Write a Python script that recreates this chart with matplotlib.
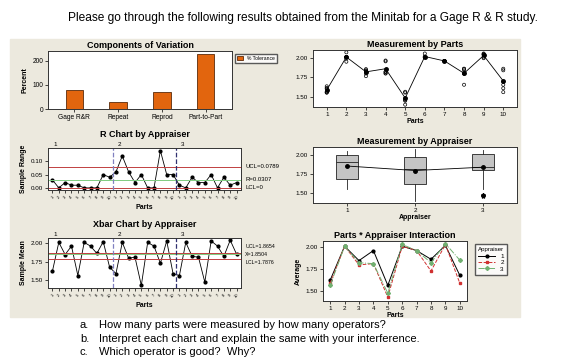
import numpy as np
import matplotlib
matplotlib.use('Agg')
import matplotlib.pyplot as plt
from matplotlib.patches import Rectangle

plt.rcParams['font.family'] = ['Liberation Sans', 'DejaVu Sans']

# ---- data read from the Minitab output ----
components = ['Gage R&R', 'Repeat', 'Reprod', 'Part-to-Part']
pct_tolerance = [78, 30, 72, 228]

parts = list(range(1, 11))
appraisers = [1, 2, 3]

# two trials per appraiser per part (appraiser 1, 2, 3 blocks of 10 parts)
trial_1 = [1.635, 2.01, 1.855, 1.965, 1.565, 2.01, 1.96, 1.86, 2.045, 1.695,
           1.615, 2.07, 1.825, 1.82, 1.45, 2.01, 1.96, 1.795, 2.055, 1.61,
           1.565, 2.01, 1.84, 1.82, 1.48, 2.055, 1.96, 1.84, 2.045, 1.86]
trial_2 = [1.605, 2.01, 1.835, 1.955, 1.555, 2.01, 1.96, 1.86, 1.995, 1.655,
           1.555, 1.95, 1.765, 1.80, 1.40, 2.01, 1.96, 1.655, 2.005, 1.56,
           1.555, 2.01, 1.80, 1.80, 1.46, 2.005, 1.96, 1.80, 2.035, 1.84]

r_ucl, r_bar, r_lcl = 0.0789, 0.0307, 0.0
x_ucl, x_bar, x_lcl = 1.8654, 1.8504, 1.7876

W, H = 564, 360
BEIGE = '#ECE9DE'
ORANGE = '#E2650E'


def ax_px(fig, l, t, r, b):
    return fig.add_axes([l / W, 1 - b / H, (r - l) / W, (b - t) / H])


def style(ax, fs=4.5):
    ax.set_facecolor('white')
    for s in ax.spines.values():
        s.set_linewidth(0.7)
        s.set_color('#333333')
    ax.tick_params(labelsize=fs, length=2, width=0.5, pad=1.5)


def main():
    fig = plt.figure(figsize=(W / 100, H / 100), dpi=100)
    fig.patch.set_facecolor('white')
    fig.add_artist(Rectangle((10 / W, 1 - 317 / H), 510 / W, 278 / H,
                             transform=fig.transFigure, color=BEIGE, zorder=0))

    t1 = np.array(trial_1)
    t2 = np.array(trial_2)
    means = (t1 + t2) / 2
    ranges = np.abs(t1 - t2)
    idx = np.arange(1, 31)

    tfs = 6.5
    lfs = 5

    # Components of variation
    ax = ax_px(fig, 48, 51, 232, 109)
    style(ax, fs=4.8)
    ax.bar(range(4), pct_tolerance, width=0.4, color=ORANGE, edgecolor='#5A2A0A',
           linewidth=0.6, label='% Tolerance')
    ax.set_xticks(range(4))
    ax.set_xticklabels(components)
    ax.set_yticks([0, 100, 200])
    ax.set_ylim(0, 240)
    ax.set_xlim(-0.6, 3.6)
    ax.set_ylabel('Percent', fontsize=lfs, fontweight='bold', labelpad=3)
    ax.set_title('Components of Variation', fontsize=tfs, fontweight='bold', pad=2)
    ax.legend(loc='upper left', bbox_to_anchor=(1.005, 1.0), fontsize=3.6,
              frameon=True, fancybox=False, edgecolor='#333333', handlelength=1.2,
              borderpad=0.4)

    # R chart
    ax = ax_px(fig, 48, 148, 241, 190)
    style(ax)
    ax.plot(idx, ranges, color='black', lw=0.6, marker='o', ms=2)
    ax.axhline(r_ucl, color='#C04040', lw=0.7)
    ax.axhline(r_bar, color='#80CC80', lw=0.7)
    ax.axhline(r_lcl, color='#C04040', lw=0.7)
    ax.axvline(10.5, color='#8080C0', lw=0.9, ls='--')
    ax.axvline(20.5, color='#303070', lw=0.9, ls='--')
    ax.set_xlim(0.3, 30.7)
    ax.set_ylim(-0.008, 0.15)
    ax.set_yticks([0.0, 0.05, 0.10])
    ax.set_yticklabels(['0.00', '0.05', '0.10'])
    ax.set_xticks(idx)
    ax.set_xticklabels(parts * 3, rotation=45, fontsize=3)
    ax.set_ylabel('Sample Range', fontsize=lfs, fontweight='bold', labelpad=3)
    ax.set_xlabel('Parts', fontsize=lfs, fontweight='bold', labelpad=2)
    ax.set_title('R Chart by Appraiser', fontsize=tfs, fontweight='bold', pad=8)
    for k, a in enumerate(appraisers):
        ax.text(1.5 + 10 * k, 1.03, str(a), transform=ax.get_xaxis_transform(),
                fontsize=4.5, ha='center', va='bottom')
    for y, s in [(r_ucl, 'UCL=0.0789'), (r_bar, 'R\u0304=0.0307'), (r_lcl, 'LCL=0')]:
        ax.annotate(s, (1.0, y), xycoords=('axes fraction', 'data'),
                    xytext=(3, 0), textcoords='offset points', fontsize=4.3,
                    va='center', annotation_clip=False)

    # Xbar chart
    ax = ax_px(fig, 48, 238, 241, 288)
    style(ax)
    ax.plot(idx, means, color='black', lw=0.6, marker='o', ms=2)
    ax.axhline(x_ucl, color='#C04040', lw=0.7)
    ax.axhline(x_bar, color='#80CC80', lw=0.7)
    ax.axhline(x_lcl, color='#C04040', lw=0.7)
    ax.axvline(10.5, color='#8080C0', lw=0.9, ls='--')
    ax.axvline(20.5, color='#303070', lw=0.9, ls='--')
    ax.set_xlim(0.3, 30.7)
    ax.set_ylim(1.39, 2.07)
    ax.set_yticks([1.5, 1.75, 2.0])
    ax.set_yticklabels(['1.50', '1.75', '2.00'])
    ax.set_xticks(idx)
    ax.set_xticklabels(parts * 3, rotation=45, fontsize=3)
    ax.set_ylabel('Sample Mean', fontsize=lfs, fontweight='bold', labelpad=3)
    ax.set_xlabel('Parts', fontsize=lfs, fontweight='bold', labelpad=2)
    ax.set_title('Xbar Chart by Appraiser', fontsize=tfs, fontweight='bold', pad=8)
    for k, a in enumerate(appraisers):
        ax.text(1.5 + 10 * k, 1.03, str(a), transform=ax.get_xaxis_transform(),
                fontsize=4.5, ha='center', va='bottom')
    # labels sit close together, as in the Minitab output
    for y, s, dy in [(x_ucl, 'UCL=1.8654', 4.5), (x_bar, 'X\u0304=1.8504', 0),
                     (x_lcl, 'LCL=1.7876', -3)]:
        ax.annotate(s, (1.0, y), xycoords=('axes fraction', 'data'),
                    xytext=(3, dy), textcoords='offset points', fontsize=3.8,
                    va='center', annotation_clip=False)

    # Measurement by parts
    ax = ax_px(fig, 313, 50, 517, 107)
    style(ax)
    allv = np.concatenate([t1, t2]).reshape(2, 3, 10)
    for p in range(10):
        vals = allv[:, :, p].ravel()
        ax.scatter(np.full(vals.size, p + 1), vals, s=5, facecolors='none',
                   edgecolors='black', linewidths=0.5)
    ax.plot(parts, allv.mean(axis=(0, 1)), color='black', lw=0.6, marker='o', ms=2.5)
    ax.set_xlim(0.3, 10.7)
    ax.set_ylim(1.37, 2.1)
    ax.set_xticks(parts)
    ax.set_yticks([1.5, 1.75, 2.0])
    ax.set_yticklabels(['1.50', '1.75', '2.00'])
    ax.set_xlabel('Parts', fontsize=lfs, fontweight='bold', labelpad=1)
    ax.set_title('Measurement by Parts', fontsize=tfs, fontweight='bold', pad=2)

    # Measurement by appraiser
    ax = ax_px(fig, 313, 147, 517, 203)
    style(ax)
    by_app = [allv[:, a, :].ravel() for a in range(3)]
    ax.boxplot(by_app, positions=appraisers, widths=0.32, patch_artist=True,
               boxprops=dict(facecolor='#C4C4C4', edgecolor='#222222', lw=0.6),
               medianprops=dict(color='#222222', lw=0.6),
               whiskerprops=dict(color='#222222', lw=0.6),
               capprops=dict(lw=0), flierprops=dict(marker='*', ms=3,
                                                    markerfacecolor='black',
                                                    markeredgecolor='black'))
    ax.plot(appraisers, [v.mean() for v in by_app], color='black', lw=0.6,
            marker='o', ms=2.5, zorder=5)
    ax.set_xlim(0.5, 3.5)
    ax.set_ylim(1.37, 2.1)
    ax.set_xticks(appraisers)
    ax.set_yticks([1.5, 1.75, 2.0])
    ax.set_yticklabels(['1.50', '1.75', '2.00'])
    ax.set_xlabel('Appraiser', fontsize=lfs, fontweight='bold', labelpad=1)
    ax.set_title('Measurement by Appraiser', fontsize=tfs, fontweight='bold', pad=2)

    # Interaction plot
    ax = ax_px(fig, 323, 241, 467, 301)
    style(ax)
    styles = [('black', '-', 'o'), ('#D03030', '--', 's'), ('#70B070', '-.', 'D')]
    for a, (c, ls, m) in zip(range(3), styles):
        ax.plot(parts, allv[:, a, :].mean(axis=0), color=c, ls=ls, lw=0.7,
                marker=m, ms=2, label=str(a + 1))
    ax.set_xlim(0.5, 10.5)
    ax.set_ylim(1.38, 2.07)
    ax.set_xticks(parts)
    ax.set_yticks([1.5, 1.75, 2.0])
    ax.set_yticklabels(['1.50', '1.75', '2.00'])
    ax.set_ylabel('Average', fontsize=lfs, fontweight='bold', labelpad=3)
    ax.set_xlabel('Parts', fontsize=lfs, fontweight='bold', labelpad=1)
    ax.set_title('Parts * Appraiser Interaction', fontsize=tfs, fontweight='bold', pad=2)
    leg = ax.legend(title='Appraiser', loc='upper left', bbox_to_anchor=(1.03, 1.0),
                    fontsize=4.6, title_fontsize=4.4, frameon=True, fancybox=False,
                    edgecolor='#333333', handlelength=2.6, borderpad=0.5,
                    labelspacing=0.15)
    leg._legend_box.align = 'right'

    # surrounding text
    fig.text(303 / W, 1 - 18 / H,
             'Please go through the following results obtained from the Minitab '
             'for a Gage R & R study.', fontsize=8.6, ha='center', va='center')
    questions = ['How many parts were measured by how many operators?',
                 'Interpret each chart and explain the same with your interference.',
                 'Which operator is good?  Why?']
    for k, (lab, q) in enumerate(zip(['a.', 'b.', 'c.'], questions)):
        y = 1 - (325 + 13.5 * k) / H
        fig.text(80 / W, y, lab, fontsize=8.0, va='center')
        fig.text(99 / W, y, q, fontsize=8.0, va='center')

    fig.savefig('out.png', dpi=100, facecolor='white')


if __name__ == '__main__':
    main()
